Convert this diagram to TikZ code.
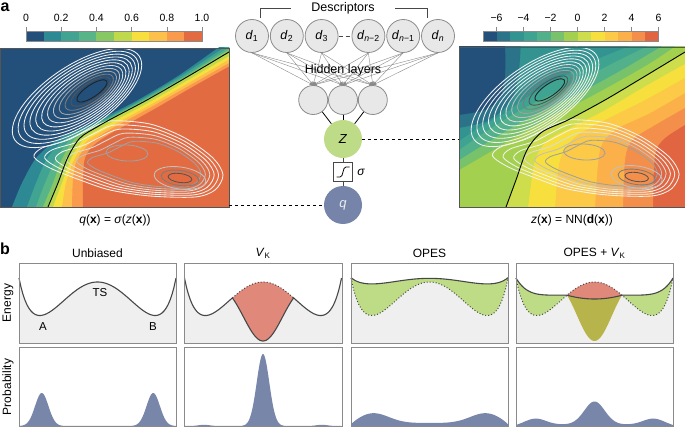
\documentclass[tikz,border=0pt]{standalone}
\usepackage{fontspec}
\setmainfont{Liberation Sans}
\usetikzlibrary{positioning, arrows}

% Farbskala q (0 ... 1)
\definecolor{ca1}{HTML}{23507A}
\definecolor{ca2}{HTML}{2D8A94}
\definecolor{ca3}{HTML}{41A392}
\definecolor{ca4}{HTML}{58B587}
\definecolor{ca5}{HTML}{88C864}
\definecolor{ca6}{HTML}{C0D94C}
\definecolor{ca7}{HTML}{F7DF3D}
\definecolor{ca8}{HTML}{FDC04A}
\definecolor{ca9}{HTML}{F99A4C}
\definecolor{ca10}{HTML}{E36B42}
% Farbskala z (-6 ... 6)
\definecolor{cb1}{HTML}{23507A}
\definecolor{cb2}{HTML}{2A7389}
\definecolor{cb3}{HTML}{339391}
\definecolor{cb4}{HTML}{3FA391}
\definecolor{cb5}{HTML}{52B08A}
\definecolor{cb6}{HTML}{77C26B}
\definecolor{cb7}{HTML}{A3D14F}
\definecolor{cb8}{HTML}{CDDD4B}
\definecolor{cb9}{HTML}{F7DF3D}
\definecolor{cb10}{HTML}{FCCA46}
\definecolor{cb11}{HTML}{FCB04A}
\definecolor{cb12}{HTML}{F38F4B}
\definecolor{cb13}{HTML}{E06540}
% Isolinien
\definecolor{cl0}{HTML}{F2F2F2}
\definecolor{cl1}{HTML}{DCDCDC}
\definecolor{cl2}{HTML}{C0C0C0}
\definecolor{cl3}{HTML}{A0A0A0}
\definecolor{cl4}{HTML}{7C7C7C}
\definecolor{cl5}{HTML}{555555}
\definecolor{cl6}{HTML}{222222}
% sonstige
\definecolor{nodefill}{HTML}{E8E8E8}
\definecolor{nodeline}{HTML}{8C8C8C}
\definecolor{zgreen}{HTML}{BEDC88}
\definecolor{qblue}{HTML}{7584A8}
\definecolor{egray}{HTML}{EFEFEF}
\definecolor{framegray}{HTML}{8A8A8A}
\definecolor{curvegray}{HTML}{474747}
\definecolor{vkred}{HTML}{E0887A}
\definecolor{opgreen}{HTML}{BEDC86}
\definecolor{olivemix}{HTML}{B8B44C}
\definecolor{pblue}{HTML}{7886AA}

\tikzset{
  neuron/.style={circle, draw=nodeline, fill=nodefill, line width=0.8pt, minimum size=33pt, inner sep=0pt, font=\fontsize{12.5}{14}\selectfont},
  hidneuron/.style={neuron, minimum size=29pt},
  edge/.style={draw=framegray, line width=0.4pt, -stealth'},
  linkline/.style={draw=black, line width=0.8pt},
  panel/.style={draw=framegray, line width=0.8pt},
  curve/.style={draw=curvegray, line width=1.1pt},
  dotcurve/.style={draw=curvegray, line width=1pt, dotted},
  title/.style={font=\fontsize{12}{14}\selectfont},
  ticklab/.style={font=\fontsize{10.5}{12}\selectfont},
  panlab/.style={font=\fontsize{16}{16}\selectfont\bfseries},
  isoline/.style={line width=0.85pt}
}

% Isolinien der beiden Becken (Koordinaten des linken Feldes)
\newcommand{\contourlines}{%
  \foreach \k/\col in {0/cl0,1/cl0,2/cl0,3/cl0,4/cl0,5/cl0,6/cl1,7/cl2,8/cl3,9/cl4,10/cl5,11/cl6}{
    \draw[isoline, \col, shift={({77+1.36*\k},{98-0.64*\k})}, rotate=34] (0,0) ellipse [x radius={75-5.2*\k}, y radius={32-2.36*\k}];
  }
  \foreach \s/\col in {1/cl0,0.92/cl0,0.84/cl0,0.76/cl1,0.68/cl2,0.6/cl3}{
    \draw[isoline, \col, shift={(168,172)}, scale=\s, shift={(-168,-172)}] plot[smooth cycle] coordinates {(110,121) (150,124) (185,138) (213,158) (223,175) (215,190) (195,197) (150,196) (110,190) (80,180) (50,168) (34,157) (42,148) (68,140) (88,130)};
  }
  \draw[isoline, cl3, shift={(127,153)}, rotate=-3] (0,0) ellipse [x radius=21, y radius=8];
  \draw[isoline, cl2, shift={(180,178)}, rotate=-8] (0,0) ellipse [x radius=26, y radius=11];
  \draw[isoline, cl4, shift={(180,178)}, rotate=-8] (0,0) ellipse [x radius=19, y radius=7.5];
  \draw[isoline, cl5, shift={(180,178)}, rotate=-8] (0,0) ellipse [x radius=12, y radius=4.5];
}

\begin{document}
\begin{tikzpicture}[x=1pt, y=-1pt, variable=\t, samples=80,
  declare function={
    enfn(\t)=107.5*((\t)*(\t)-0.5625)*((\t)*(\t)-0.5625)+17.4*((\t)*(\t))^6;
    wellb(\t)=-25+43.11*(0.5*(\t)*(\t)/0.1521+0.25*(1-cos(461.54*(\t))));
    welld(\t)=-25+45.81*(0.5*(\t)*(\t)/0.1225+0.25*(1-cos(514.29*(\t))));
    opesc(\t)=32+enfn(\t)/6;
    outd(\t)=20.81+17.19*max(0,(abs(\t)-0.35)/0.65)^5;
    ind(\t)=17+3.81*(\t)*(\t)/0.1225;
    proba(\t)=33*exp(max(-20,-((\t)+0.71)*((\t)+0.71)/0.01445))+33*exp(max(-20,-((\t)-0.71)*((\t)-0.71)/0.01445));
    probb(\t)=72*exp(max(-20,-(\t)*(\t)/0.0128))+1.2*exp(max(-20,-(abs(\t)-0.75)*(abs(\t)-0.75)/0.01));
    probc(\t)=3+10*exp(max(-20,-(abs(\t)-0.72)*(abs(\t)-0.72)/0.08))-5*((\t)*(\t))^5;
    probd(\t)=1.5+23*exp(max(-20,-(\t)*(\t)/0.0338))+6*exp(max(-20,-(abs(\t)-0.75)*(abs(\t)-0.75)/0.0338))-1.5*((\t)*(\t))^5;
  }]
\useasboundingbox (0,0) rectangle (685,427);

\node[panlab] (la) at (5,7) {a};
\node[panlab] (lb) at (5,249) {b};

% Farbbalken links
\foreach \c [count=\i from 0] in {ca1,ca2,ca3,ca4,ca5,ca6,ca7,ca8,ca9,ca10}
  \fill[\c] ({26+17.6*\i},31) rectangle ({43.6+17.6*\i},41);
\draw[framegray, line width=0.5pt] (26,31) rectangle (202,41);
\foreach \v [count=\i from 0] in {0,0.2,0.4,0.6,0.8,1.0}{
  \draw[framegray, line width=0.6pt] ({26+35.2*\i},27) -- ({26+35.2*\i},31);
  \node[ticklab] (lt\i) at ({26+35.2*\i},18) {\v};
}

% Farbbalken rechts
\foreach \c [count=\i from 0] in {cb1,cb2,cb3,cb4,cb5,cb6,cb7,cb8,cb9,cb10,cb11,cb12,cb13}
  \fill[\c] ({483+13.5*\i},31) rectangle ({496.5+13.5*\i},41);
\draw[framegray, line width=0.5pt] (483,31) rectangle (658.5,41);
\foreach \v [count=\i from 0] in {−6,−4,−2,0,2,4,6}{
  \draw[framegray, line width=0.6pt] ({496.5+27*\i},27) -- ({496.5+27*\i},31);
  \node[ticklab] (rt\i) at ({496.5+27*\i},18) {\v};
}

% linkes Feld: q(x)
\begin{scope}
  \clip (0,48) rectangle (229,207);
  \fill[ca1] (0,48) rectangle (229,207);
  \fill[ca2] plot[smooth] coordinates {(9,215) (12,207) (22,183) (37,157) (60,138) (84,127) (103,118) (138,100) (178,76) (218,48) (235,37)} -- (240,215) -- cycle;
  \fill[ca3] plot[smooth] coordinates {(24,215) (27,207) (36,183) (48,157) (67,138) (89,127) (107,118) (141,100) (181,76) (222,49) (235,41)} -- (240,215) -- cycle;
  \fill[ca4] plot[smooth] coordinates {(33,215) (36,207) (45,183) (57,157) (72,138) (92,127) (109,118) (143,100) (183,77) (225,50) (235,45)} -- (240,215) -- cycle;
  \fill[ca5] plot[smooth] coordinates {(40,215) (43,207) (53,183) (63,157) (76,138) (95,127) (111,118) (145,100) (185,77) (227,51) (235,48)} -- (240,215) -- cycle;
  \fill[ca6] plot[smooth] coordinates {(45,215) (48,207) (58,183) (68,157) (80,138) (97,127) (113,118) (147,100) (187,77) (229,52) (236,48)} -- (240,215) -- cycle;
  \fill[ca7] plot[smooth] coordinates {(51,215) (53,207) (62,183) (72,157) (84,139) (100,129) (116,120) (150,102) (190,79) (236,52)} -- (240,215) -- cycle;
  \fill[ca8] plot[smooth] coordinates {(61,215) (62,207) (66,183) (74,160) (87,141) (103,131) (119,122) (152,104) (192,81) (237,55)} -- (240,215) -- cycle;
  \fill[ca9] plot[smooth] coordinates {(72,215) (72,207) (73,180) (77,160) (90,143) (106,132) (122,123) (155,105) (194,83) (238,58)} -- (240,215) -- cycle;
  \fill[ca10] plot[smooth] coordinates {(83,215) (83,207) (83,180) (85,158) (94,145) (110,134) (126,125) (158,107) (196,85) (239,61)} -- (240,215) -- cycle;
  \contourlines
  \draw[line width=0.9pt] plot[smooth] coordinates {(45,215) (48,207) (58,183) (68,157) (80,138) (97,127) (113,118) (147,100) (187,77) (229,52) (236,48)};
\end{scope}
\draw[cl5, line width=0.6pt] (0,48) rectangle (229,207);
\node[title] (qlab) at (115,220) {\textit{q}(\textbf{x}) = \textit{σ}(\textit{z}(\textbf{x}))};

% rechtes Feld: z(x)
\begin{scope}
  \clip (459,47) rectangle (685,207);
  \fill[cb13] (459,47) rectangle (685,207);
  \fill[cb12] plot[smooth] coordinates {(652,212) (653,207) (655,155) (665,138) (690,122)} -- (690,40) -- (455,40) -- (455,212) -- cycle;
  \fill[cb11] plot[smooth] coordinates {(623,212) (623,207) (625,160) (632,140) (655,125) (690,105)} -- (690,40) -- (455,40) -- (455,212) -- cycle;
  \fill[cb10] plot[smooth] coordinates {(595,212) (595,207) (600,150) (615,130) (650,113) (690,90)} -- (690,40) -- (455,40) -- (455,212) -- cycle;
  \fill[cb9] plot[smooth] coordinates {(555,212) (555,207) (560,160) (575,137) (605,120) (645,100) (690,75)} -- (690,40) -- (455,40) -- (455,212) -- cycle;
  \fill[cb8] plot[smooth] coordinates {(527,212) (528,207) (535,160) (548,140) (570,128) (605,110) (642,88) (690,61)} -- (690,40) -- (455,40) -- (455,212) -- cycle;
  \fill[cb7] plot[smooth] coordinates {(504,212) (506,207) (516,180) (527,150) (542,132) (568,120) (605,100) (642,78) (690,49)} -- (690,40) -- (455,40) -- (455,212) -- cycle;
  \fill[cb6] plot[smooth] coordinates {(455,172) (459,170) (490,152) (520,134) (550,117) (588,98) (628,76) (655,60) (684,40)} -- (455,40) -- cycle;
  \fill[cb5] plot[smooth] coordinates {(455,162) (459,160) (488,142) (518,124) (548,108) (585,90) (625,68) (672,40)} -- (455,40) -- cycle;
  \fill[cb4] plot[smooth] coordinates {(455,152) (459,150) (485,132) (512,115) (540,100) (575,83) (615,62) (660,40)} -- (455,40) -- cycle;
  \fill[cb3] plot[smooth] coordinates {(455,143) (459,141) (480,127) (505,113) (530,95) (560,78) (600,58) (645,40)} -- (455,40) -- cycle;
  \fill[cb2] plot[smooth] coordinates {(455,129) (459,128) (485,122) (503,110) (514,95) (519,70) (521,40)} -- (455,40) -- cycle;
  \fill[cb1] plot[smooth] coordinates {(455,116) (459,115) (485,110) (500,98) (505,75) (505,40)} -- (455,40) -- cycle;
  \begin{scope}[shift={(459,-1)}, xscale=0.987]
    \contourlines
  \end{scope}
  \draw[line width=0.9pt] plot[smooth] coordinates {(504,212) (506,207) (516,180) (527,150) (542,132) (568,120) (605,100) (642,78) (690,49)};
\end{scope}
\draw[cl5, line width=0.6pt] (459,47) rectangle (685,207);
\node[title] (zlab) at (572,220) {\textit{z}(\textbf{x}) = NN(\textbf{d}(\textbf{x}))};

% Netzwerk
\node[neuron] (d1) at (252,36) {\textit{d}\textsubscript{1}};
\node[neuron, right=1pt of d1] (d2) {\textit{d}\textsubscript{2}};
\node[neuron, right=1pt of d2] (d3) {\textit{d}\textsubscript{3}};
\node[neuron, right=13pt of d3] (d4) {\textit{d}\textsubscript{\textit{n}−2}};
\node[neuron, right=1pt of d4] (d5) {\textit{d}\textsubscript{\textit{n}−1}};
\node[neuron, right=1pt of d5] (d6) {\textit{d}\textsubscript{\textit{n}}};
\draw[curvegray, line width=0.8pt, dash pattern=on 4pt off 3pt] (d3) -- (d4);
\draw[curvegray, line width=0.6pt] (260,18) -- (260,8) -- (291,8);
\draw[curvegray, line width=0.6pt] (395,8) -- (427,8) -- (427,18);
\node[title, font=\fontsize{12.5}{14}\selectfont] (desc) at (343,8) {Descriptors};

\node[hidneuron] (h2) at (343,100) {};
\node[hidneuron, left=0pt of h2] (h1) {};
\node[hidneuron, right=0pt of h2] (h3) {};
\foreach \i in {1,...,6}
  \foreach \j in {1,2,3}
    \draw[edge] (d\i.south) -- (h\j.north);
\node[title, font=\fontsize{12.5}{14}\selectfont] (hid) at (343,70) {Hidden layers};

\node[circle, fill=zgreen, minimum size=38pt, inner sep=0pt, font=\fontsize{13}{14}\selectfont] (Z) at (343,139) {\textit{Z}};
\node[draw=curvegray, fill=white, line width=0.8pt, minimum size=19pt, inner sep=0pt] (sig) at (343,172) {};
\draw[line width=0.8pt, rounded corners=1.5pt] (336.5,177) -- (341.5,177) -- (344.5,167) -- (349.5,167);
\node[title, right=1pt of sig] (siglab) {\textit{σ}};
\node[circle, fill=qblue, minimum size=38pt, inner sep=0pt, text=white!85!qblue, font=\fontsize{13}{14}\selectfont] (q) at (343,205) {\textit{q}};
\foreach \j in {1,2,3}
  \draw[linkline] (h\j) -- (Z);
\draw[curvegray, line width=0.8pt] (Z) -- (sig) -- (q);

% Verbindungen zu den Feldern
\coordinate (zend) at (459,139);
\coordinate (qend) at (229,205);
\draw[line width=0.8pt, dashed] (Z.east) -- (zend);
\draw[line width=0.8pt, dashed] (qend) -- (q.west);

% Teil b: Titel
\node[title] (t1) at (97.5,253) {Unbiased};
\node[title] (t2) at (263,253) {\textit{V}\textsubscript{K}};
\node[title] (t3) at (429.5,253) {OPES};
\node[title] (t4) at (594.5,253) {OPES + \textit{V}\textsubscript{K}};
\node[title, rotate=90] (elab) at (8,303) {Energy};
\node[title, rotate=90] (plab) at (8,387) {Probability};

% Unbiased
\fill[egray] plot[domain=-1:1] ({97.5+78.5*(\t)},{316-enfn(\t)}) -- (176,343) -- (19,343) -- cycle;
\draw[curve] plot[domain=-1:1] ({97.5+78.5*(\t)},{316-enfn(\t)});
\draw[panel] (19,263) rectangle (176,343);
\node[ticklab, font=\fontsize{11.5}{13}\selectfont] (ts) at (100,293) {TS};
\node[ticklab, font=\fontsize{11.5}{13}\selectfont] (sa) at (43,327) {A};
\node[ticklab, font=\fontsize{11.5}{13}\selectfont] (sb) at (153,327) {B};
\fill[pblue] plot[domain=-1:1, samples=150] ({97.5+78.5*(\t)},{426-proba(\t)}) -- (176,426) -- (19,426) -- cycle;
\draw[panel] (19,347) rectangle (176,426);

% V_K
\fill[egray] plot[domain=-1:-0.39] ({263+78.5*(\t)},{316-enfn(\t)}) -- plot[domain=-0.39:0.39] ({263+78.5*(\t)},{316-wellb(\t)}) -- plot[domain=0.39:1] ({263+78.5*(\t)},{316-enfn(\t)}) -- (341.5,343) -- (184.5,343) -- cycle;
\fill[vkred] plot[domain=-0.39:0.39] ({263+78.5*(\t)},{316-enfn(\t)}) -- plot[domain=0.39:-0.39] ({263+78.5*(\t)},{316-wellb(\t)}) -- cycle;
\draw[dotcurve] plot[domain=-0.39:0.39] ({263+78.5*(\t)},{316-enfn(\t)});
\draw[curve] plot[domain=-1:-0.39] ({263+78.5*(\t)},{316-enfn(\t)}) -- plot[domain=-0.39:0.39] ({263+78.5*(\t)},{316-wellb(\t)}) -- plot[domain=0.39:1] ({263+78.5*(\t)},{316-enfn(\t)});
\draw[panel] (184,263) rectangle (342,343);
\fill[pblue] plot[domain=-1:1, samples=150] ({263+78.5*(\t)},{426-probb(\t)}) -- (341.5,426) -- (184.5,426) -- cycle;
\draw[panel] (184,347) rectangle (342,426);

% OPES
\fill[egray] plot[domain=-1:1] ({429.5+78.5*(\t)},{316-enfn(\t)}) -- (508,343) -- (351,343) -- cycle;
\fill[opgreen] plot[domain=-1:1] ({429.5+78.5*(\t)},{316-opesc(\t)}) -- plot[domain=1:-1] ({429.5+78.5*(\t)},{316-enfn(\t)}) -- cycle;
\draw[dotcurve] plot[domain=-1:1] ({429.5+78.5*(\t)},{316-enfn(\t)});
\draw[curve] plot[domain=-1:1] ({429.5+78.5*(\t)},{316-opesc(\t)});
\draw[panel] (351,263) rectangle (508,343);
\fill[pblue] plot[domain=-1:1] ({429.5+78.5*(\t)},{426-probc(\t)}) -- (508,426) -- (351,426) -- cycle;
\draw[panel] (351,347) rectangle (508,426);

% OPES + V_K
\fill[egray] plot[domain=-1:-0.35] ({594.5+78.5*(\t)},{316-enfn(\t)}) -- plot[domain=-0.35:0.35] ({594.5+78.5*(\t)},{316-welld(\t)}) -- plot[domain=0.35:1] ({594.5+78.5*(\t)},{316-enfn(\t)}) -- (673,343) -- (516,343) -- cycle;
\fill[opgreen] plot[domain=-1:-0.35] ({594.5+78.5*(\t)},{316-outd(\t)}) -- plot[domain=-0.35:-1] ({594.5+78.5*(\t)},{316-enfn(\t)}) -- cycle;
\fill[opgreen] plot[domain=0.35:1] ({594.5+78.5*(\t)},{316-outd(\t)}) -- plot[domain=1:0.35] ({594.5+78.5*(\t)},{316-enfn(\t)}) -- cycle;
\fill[olivemix] plot[domain=-0.35:0.35] ({594.5+78.5*(\t)},{316-ind(\t)}) -- plot[domain=0.35:-0.35] ({594.5+78.5*(\t)},{316-welld(\t)}) -- cycle;
\fill[vkred] plot[domain=-0.35:0.35] ({594.5+78.5*(\t)},{316-enfn(\t)}) -- plot[domain=0.35:-0.35] ({594.5+78.5*(\t)},{316-ind(\t)}) -- cycle;
\draw[dotcurve] plot[domain=-1:1] ({594.5+78.5*(\t)},{316-enfn(\t)});
\draw[curve] plot[domain=-1:-0.35] ({594.5+78.5*(\t)},{316-outd(\t)}) -- plot[domain=-0.35:0.35] ({594.5+78.5*(\t)},{316-ind(\t)}) -- plot[domain=0.35:1] ({594.5+78.5*(\t)},{316-outd(\t)});
\draw[panel] (516,263) rectangle (673,343);
\fill[pblue] plot[domain=-1:1, samples=150] ({594.5+78.5*(\t)},{426-probd(\t)}) -- (673,426) -- (516,426) -- cycle;
\draw[panel] (516,347) rectangle (673,426);
\end{tikzpicture}
\end{document}
